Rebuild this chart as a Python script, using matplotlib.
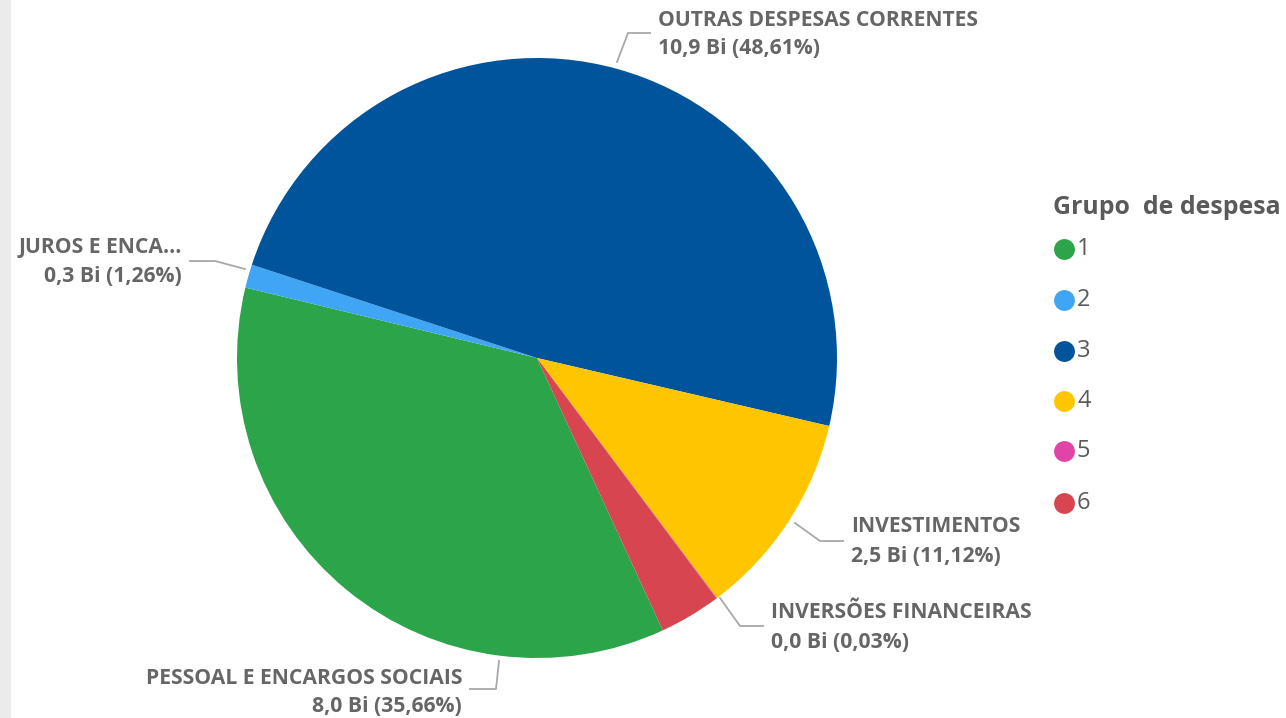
import matplotlib
matplotlib.use("Agg")
import matplotlib.pyplot as plt
from matplotlib.patches import Rectangle
from matplotlib.lines import Line2D

groups = ["1", "2", "3", "4", "5", "6"]
names = ["PESSOAL E ENCARGOS SOCIAIS", "JUROS E ENCA...", "OUTRAS DESPESAS CORRENTES",
         "INVESTIMENTOS", "INVERSÕES FINANCEIRAS", "AMORTIZAÇÃO DA DÍVIDA"]
values_bi = ["8,0", "0,3", "10,9", "2,5", "0,0", "0,7"]
percents = [35.66, 1.26, 48.61, 11.12, 0.03, 3.32]
colors = ["#2CA44A", "#41A5F5", "#00549B", "#FFC600", "#E044A7", "#D64550"]
shown = [True, True, True, True, True, False]

W, H = 1286, 718
fig = plt.figure(figsize=(W / 100, H / 100), dpi=100)
ax = fig.add_axes([0, 0, 1, 1])
ax.pie(percents, colors=colors, startangle=-65.2, counterclock=False,
       center=(537, H - 358), radius=300, wedgeprops=dict(linewidth=0))
ax.set_xlim(0, W)
ax.set_ylim(0, H)
ax.set_aspect("equal")
ax.axis("off")

# left gray strip
fig.patches.append(Rectangle((0, 0), 11 / W, 1, transform=fig.transFigure,
                             facecolor="#EBEBEB", edgecolor="none", zorder=0))

def Y(y):
    return H - y

txt_color = "#666666"
line_color = "#A8A8A8"
fam = ["Open Sans", "DejaVu Sans"]
fnt = dict(family=fam, fontweight="bold", fontsize=15.2, color=txt_color)

# label layout: (leader points in px, text x, align, line1 center y, line2 center y)
layout = {
    2: ([(617, 62), (628, 33), (650, 33)], 658, "left", 20, 48),
    1: ([(245, 269), (215, 261), (190, 261)], 182, "right", 248, 276),
    3: ([(795, 523), (820, 541), (843, 541)], 851, "left", 527, 556),
    4: ([(720, 598), (740, 626), (763, 626)], 771, "left", 613, 642),
    0: ([(499, 661), (496, 689), (470, 689)], 462, "right", 679, 707),
}
for i, (pts, tx, ha, y1, y2) in layout.items():
    if not shown[i]:
        continue
    xs = [p[0] for p in pts]
    ys = [Y(p[1]) for p in pts]
    ax.add_line(Line2D(xs, ys, color=line_color, linewidth=1.3))
    ax.text(tx, Y(y1), names[i], ha=ha, va="center", **fnt)
    ax.text(tx, Y(y2), f"{values_bi[i]} Bi ({percents[i]:.2f}%)".replace(".", ","),
            ha=ha, va="center", **fnt)

# legend
ax.text(1053, Y(208), "Grupo  de despesa", ha="left", va="center",
        family=fam, fontweight="bold", fontsize=17.9, color="#5A5A5A")
leg_y = [249, 300, 351, 401, 451, 503]
for g, c, ly in zip(groups, colors, leg_y):
    ax.plot([1064], [Y(ly)], marker="o", markersize=15, color=c, markeredgewidth=0)
    ax.text(1077, Y(ly), g, ha="left", va="center",
            family=fam, fontsize=17, color="#5A5A5A")

fig.savefig("out.png", dpi=100, facecolor="white")
